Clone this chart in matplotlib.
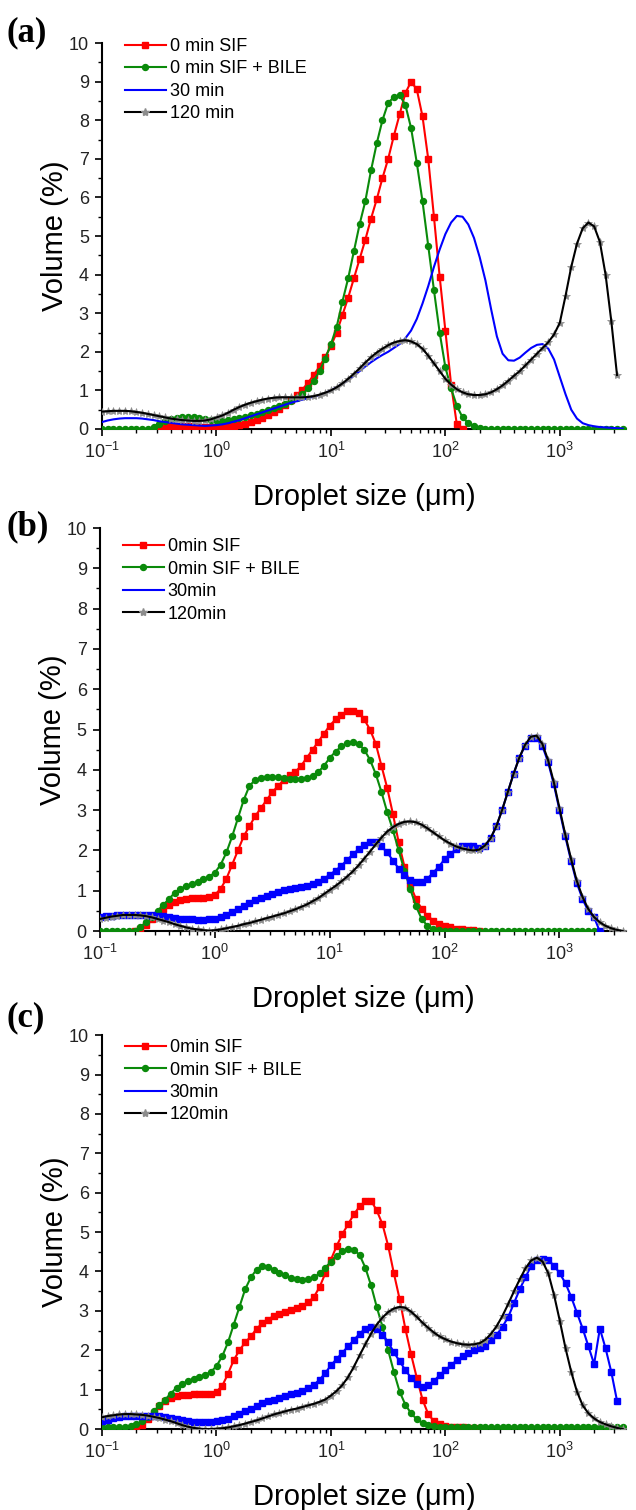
import numpy as np
import matplotlib.pyplot as plt
from matplotlib.lines import Line2D
from matplotlib.ticker import LogLocator, MultipleLocator, NullFormatter

plt.rcParams['font.family'] = 'Liberation Sans'
plt.rcParams['mathtext.fontset'] = 'custom'
plt.rcParams['mathtext.rm'] = 'Liberation Sans'
plt.rcParams['mathtext.it'] = 'Liberation Sans:italic'
plt.rcParams['mathtext.bf'] = 'Liberation Sans:bold'

nan = np.nan

# size classes (um), 20 per decade
sizes = [
    0.100, 0.112, 0.126, 0.142, 0.159, 0.178, 0.200, 0.224, 0.252, 0.283, 0.317, 0.356, 0.399, 0.448, 0.502, 0.564, 0.632, 0.710, 0.796, 0.893,
    1.002, 1.125, 1.262, 1.416, 1.589, 1.783, 2.000, 2.244, 2.518, 2.825, 3.170, 3.557, 3.991, 4.477, 5.024, 5.637, 6.325, 7.096, 7.962, 8.934,
    10.02, 11.25, 12.62, 14.16, 15.89, 17.83, 20.00, 22.44, 25.18, 28.25, 31.70, 35.57, 39.91, 44.77, 50.24, 56.37, 63.25, 70.96, 79.62, 89.34,
    100.2, 112.5, 126.2, 141.6, 158.9, 178.3, 200.0, 224.4, 251.8, 282.5, 317.0, 355.7, 399.1, 447.7, 502.4, 563.7, 632.5, 709.6, 796.2, 893.4,
    1002, 1125, 1262, 1416, 1589, 1783, 2000, 2244, 2518, 2825, 3170, 3557]

# ---- panel (a) ----
red_a = [
    nan, nan, nan, nan, nan, nan, nan, nan, nan, 0.00, 0.02, 0.05, 0.07, 0.08, 0.08, 0.08, 0.07, 0.06, 0.05, 0.05,
    0.05, 0.05, 0.07, 0.08, 0.10, 0.13, 0.17, 0.22, 0.28, 0.35, 0.43, 0.52, 0.62, 0.74, 0.87, 1.02, 1.20, 1.40, 1.62, 1.87,
    2.15, 2.50, 2.95, 3.40, 3.90, 4.40, 4.90, 5.45, 5.95, 6.50, 7.00, 7.60, 8.15, 8.70, 9.00, 8.80, 8.10, 7.00, 5.50, 3.95,
    2.55, 1.15, 0.12, 0.00, nan, nan, nan, nan, nan, nan, nan, nan, nan, nan, nan, nan, nan, nan, nan, nan,
    nan, nan, nan, nan, nan, nan, nan, nan, nan, nan, nan, nan]
green_a = [
    0.00, 0.00, 0.00, 0.00, 0.00, 0.00, 0.00, 0.00, 0.00, 0.05, 0.12, 0.20, 0.25, 0.28, 0.30, 0.30, 0.30, 0.28, 0.25, 0.22,
    0.20, 0.20, 0.22, 0.25, 0.28, 0.32, 0.36, 0.40, 0.45, 0.50, 0.55, 0.60, 0.66, 0.72, 0.80, 0.90, 1.05, 1.25, 1.50, 1.82,
    2.20, 2.65, 3.30, 3.90, 4.60, 5.30, 5.90, 6.70, 7.40, 8.00, 8.45, 8.60, 8.65, 8.40, 7.80, 6.90, 5.90, 4.75, 3.60, 2.50,
    1.60, 1.05, 0.60, 0.30, 0.15, 0.07, 0.03, 0.00, 0.00, 0.00, 0.00, 0.00, 0.00, 0.00, 0.00, 0.00, 0.00, 0.00, 0.00, 0.00,
    0.00, 0.00, 0.00, 0.00, 0.00, 0.00, 0.00, 0.00, 0.00, 0.00, 0.00, 0.00]
blue_a = [
    0.18, 0.22, 0.25, 0.27, 0.28, 0.28, 0.28, 0.27, 0.25, 0.23, 0.20, 0.18, 0.16, 0.14, 0.12, 0.11, 0.10, 0.09, 0.08, 0.09,
    0.10, 0.12, 0.15, 0.19, 0.23, 0.28, 0.33, 0.38, 0.43, 0.48, 0.53, 0.58, 0.63, 0.68, 0.72, 0.76, 0.80, 0.84, 0.88, 0.93,
    1.00, 1.08, 1.17, 1.27, 1.38, 1.50, 1.62, 1.73, 1.83, 1.92, 2.00, 2.10, 2.20, 2.35, 2.55, 2.85, 3.25, 3.70, 4.20, 4.65,
    5.05, 5.35, 5.52, 5.50, 5.30, 4.95, 4.45, 3.85, 3.10, 2.40, 1.95, 1.78, 1.77, 1.85, 1.98, 2.10, 2.18, 2.20, 2.08, 1.80,
    1.35, 0.90, 0.50, 0.27, 0.15, 0.10, 0.07, 0.05, 0.04, 0.03, 0.02, 0.01]
black_a = [
    0.45, 0.46, 0.47, 0.47, 0.47, 0.46, 0.44, 0.42, 0.39, 0.36, 0.33, 0.30, 0.27, 0.25, 0.23, 0.22, 0.21, 0.21, 0.22, 0.25,
    0.30, 0.35, 0.42, 0.50, 0.57, 0.63, 0.68, 0.72, 0.76, 0.79, 0.81, 0.82, 0.82, 0.82, 0.82, 0.82, 0.83, 0.85, 0.89, 0.94,
    1.00, 1.08, 1.18, 1.30, 1.43, 1.57, 1.72, 1.86, 1.98, 2.08, 2.17, 2.24, 2.28, 2.30, 2.27, 2.20, 2.08, 1.90, 1.70, 1.50,
    1.30, 1.15, 1.03, 0.95, 0.90, 0.88, 0.88, 0.90, 0.95, 1.03, 1.13, 1.25, 1.38, 1.50, 1.65, 1.80, 1.95, 2.10, 2.25, 2.45,
    2.75, 3.45, 4.20, 4.80, 5.20, 5.35, 5.25, 4.85, 4.00, 2.80, 1.40, nan]

# ---- panel (b) ----
red_b = [
    nan, nan, nan, nan, nan, nan, 0.00, 0.05, 0.15, 0.30, 0.42, 0.55, 0.65, 0.72, 0.78, 0.80, 0.82, 0.82, 0.83, 0.85,
    0.90, 1.05, 1.30, 1.65, 2.00, 2.35, 2.60, 2.85, 3.05, 3.25, 3.45, 3.60, 3.75, 3.88, 3.95, 4.10, 4.30, 4.50, 4.70, 4.90,
    5.10, 5.25, 5.37, 5.45, 5.47, 5.42, 5.25, 5.00, 4.65, 4.10, 3.55, 2.90, 2.20, 1.60, 1.15, 0.80, 0.55, 0.38, 0.26, 0.18,
    0.13, 0.09, 0.06, 0.04, 0.03, 0.02, 0.01, nan, nan, nan, nan, nan, nan, nan, nan, nan, nan, nan, nan, nan,
    nan, nan, nan, nan, nan, nan, nan, nan, nan, nan, nan, nan]
green_b = [
    0.00, 0.00, 0.00, 0.00, 0.00, 0.00, 0.00, 0.10, 0.22, 0.35, 0.50, 0.65, 0.80, 0.95, 1.05, 1.12, 1.17, 1.22, 1.28, 1.35,
    1.45, 1.65, 1.95, 2.35, 2.80, 3.25, 3.60, 3.75, 3.80, 3.82, 3.82, 3.82, 3.80, 3.78, 3.77, 3.77, 3.80, 3.85, 3.95, 4.10,
    4.30, 4.45, 4.58, 4.66, 4.70, 4.65, 4.50, 4.25, 3.90, 3.45, 2.95, 2.50, 2.00, 1.50, 1.05, 0.62, 0.30, 0.13, 0.05, 0.02,
    0.00, 0.00, 0.00, 0.00, 0.00, 0.00, 0.00, 0.00, 0.00, 0.00, 0.00, 0.00, 0.00, 0.00, 0.00, 0.00, 0.00, 0.00, 0.00, 0.00,
    0.00, 0.00, 0.00, 0.00, 0.00, 0.00, 0.00, nan, nan, nan, nan, nan]
blue_b = [
    0.35, 0.37, 0.38, 0.39, 0.40, 0.40, 0.40, 0.40, 0.40, 0.39, 0.38, 0.37, 0.35, 0.33, 0.31, 0.30, 0.29, 0.28, 0.28, 0.29,
    0.31, 0.35, 0.41, 0.48, 0.55, 0.62, 0.69, 0.76, 0.82, 0.88, 0.93, 0.98, 1.02, 1.05, 1.08, 1.10, 1.13, 1.17, 1.22, 1.30,
    1.40, 1.50, 1.62, 1.76, 1.90, 2.03, 2.13, 2.20, 2.20, 2.10, 1.95, 1.75, 1.55, 1.38, 1.27, 1.22, 1.22, 1.30, 1.45, 1.60,
    1.78, 1.92, 2.03, 2.10, 2.12, 2.10, 2.05, 2.12, 2.30, 2.60, 3.00, 3.45, 3.90, 4.30, 4.60, 4.78, 4.78, 4.60, 4.20, 3.65,
    3.00, 2.35, 1.75, 1.20, 0.80, 0.50, 0.35, 0.00, nan, nan, nan, nan]
black_b = [
    0.30, 0.33, 0.36, 0.38, 0.40, 0.40, 0.40, 0.39, 0.37, 0.34, 0.30, 0.26, 0.22, 0.17, 0.13, 0.09, 0.06, 0.04, 0.02, 0.01,
    0.02, 0.04, 0.07, 0.10, 0.13, 0.17, 0.20, 0.24, 0.28, 0.32, 0.36, 0.40, 0.44, 0.49, 0.54, 0.60, 0.66, 0.74, 0.82, 0.92,
    1.02, 1.12, 1.23, 1.35, 1.48, 1.63, 1.80, 1.97, 2.15, 2.32, 2.47, 2.58, 2.66, 2.71, 2.72, 2.70, 2.64, 2.55, 2.45, 2.35,
    2.25, 2.17, 2.10, 2.05, 2.02, 2.00, 2.02, 2.12, 2.30, 2.60, 3.00, 3.45, 3.90, 4.30, 4.62, 4.82, 4.85, 4.65, 4.25, 3.70,
    3.05, 2.40, 1.80, 1.25, 0.85, 0.55, 0.35, 0.22, 0.13, 0.07, 0.03, 0.00]

# ---- panel (c) ----
red_c = [
    nan, nan, nan, nan, nan, nan, 0.00, 0.10, 0.25, 0.42, 0.58, 0.70, 0.78, 0.83, 0.86, 0.87, 0.88, 0.88, 0.88, 0.90,
    0.95, 1.10, 1.40, 1.75, 2.00, 2.20, 2.35, 2.55, 2.68, 2.78, 2.87, 2.93, 2.98, 3.02, 3.07, 3.13, 3.22, 3.35, 3.60, 3.95,
    4.30, 4.65, 4.95, 5.20, 5.45, 5.65, 5.78, 5.80, 5.55, 5.20, 4.65, 3.95, 3.30, 2.55, 1.90, 1.30, 0.75, 0.38, 0.20, 0.12,
    0.08, 0.06, 0.05, 0.04, 0.03, 0.02, 0.01, nan, nan, nan, nan, nan, nan, nan, nan, nan, nan, nan, nan, nan,
    nan, nan, nan, nan, nan, nan, nan, nan, nan, nan, nan, nan]
green_c = [
    0.05, 0.05, 0.05, 0.05, 0.05, 0.08, 0.12, 0.20, 0.30, 0.45, 0.60, 0.75, 0.90, 1.05, 1.15, 1.22, 1.28, 1.33, 1.38, 1.45,
    1.60, 1.85, 2.20, 2.65, 3.10, 3.55, 3.85, 4.05, 4.15, 4.12, 4.05, 3.97, 3.90, 3.84, 3.80, 3.78, 3.80, 3.85, 3.95, 4.10,
    4.25, 4.40, 4.52, 4.58, 4.55, 4.42, 4.10, 3.65, 3.10, 2.60, 2.00, 1.45, 0.95, 0.62, 0.40, 0.25, 0.15, 0.10, 0.08, 0.06,
    0.05, 0.05, 0.05, 0.05, 0.05, 0.05, 0.05, 0.05, 0.05, 0.05, 0.05, 0.05, 0.05, 0.05, 0.05, 0.05, 0.05, 0.05, 0.05, 0.05,
    0.05, 0.05, 0.05, 0.05, 0.05, 0.05, 0.05, 0.05, 0.05, 0.05, 0.05, 0.05]
blue_c = [
    0.20, 0.24, 0.27, 0.30, 0.32, 0.33, 0.34, 0.34, 0.34, 0.33, 0.32, 0.30, 0.28, 0.25, 0.22, 0.20, 0.18, 0.17, 0.17, 0.18,
    0.20, 0.22, 0.26, 0.32, 0.38, 0.45, 0.52, 0.58, 0.65, 0.70, 0.75, 0.80, 0.84, 0.88, 0.92, 0.97, 1.03, 1.12, 1.25, 1.42,
    1.62, 1.78, 1.94, 2.10, 2.26, 2.42, 2.55, 2.60, 2.55, 2.40, 2.20, 1.95, 1.72, 1.50, 1.30, 1.15, 1.08, 1.12, 1.22, 1.37,
    1.50, 1.62, 1.75, 1.85, 1.93, 2.00, 2.05, 2.10, 2.25, 2.40, 2.60, 2.85, 3.20, 3.55, 3.85, 4.15, 4.28, 4.32, 4.28, 4.15,
    3.95, 3.70, 3.35, 2.95, 2.55, 2.10, 1.65, 2.55, 2.05, 1.45, 0.72, nan]
black_c = [
    0.30, 0.33, 0.35, 0.37, 0.38, 0.38, 0.37, 0.36, 0.34, 0.31, 0.28, 0.24, 0.20, 0.15, 0.10, 0.06, 0.03, 0.01, 0.00, 0.00,
    0.01, 0.02, 0.04, 0.07, 0.10, 0.14, 0.18, 0.22, 0.27, 0.32, 0.37, 0.41, 0.45, 0.49, 0.52, 0.56, 0.60, 0.64, 0.69, 0.75,
    0.85, 0.97, 1.12, 1.32, 1.58, 1.87, 2.15, 2.42, 2.65, 2.83, 2.97, 3.06, 3.10, 3.08, 2.98, 2.85, 2.70, 2.57, 2.45, 2.35,
    2.28, 2.22, 2.18, 2.15, 2.14, 2.15, 2.18, 2.27, 2.42, 2.62, 2.88, 3.18, 3.50, 3.80, 4.08, 4.28, 4.35, 4.25, 3.95, 3.40,
    2.75, 2.05, 1.45, 0.95, 0.60, 0.40, 0.27, 0.18, 0.12, 0.07, 0.03, 0.00]

labels_a = ['0 min SIF', '0 min SIF + BILE', '30 min', '120 min']
labels_bc = ['0min SIF', '0min SIF + BILE', '30min', '120min']

RED, GREEN, BLUE = '#ff0000', '#0a8a0a', '#0000ff'

fig = plt.figure(figsize=(6.36, 15.1), dpi=100)

panels = [
    # tag, rect, series, labels, blue markers, legend y, tag y
    ('(a)', [0.1604, 0.7159, 0.8239, 0.2556], (red_a, green_a, blue_a, black_a), labels_a, False, 1.055, 0.978),
    ('(b)', [0.1572, 0.3834, 0.8270, 0.2669], (red_b, green_b, blue_b, black_b), labels_bc, True, 1.015, 0.651),
    ('(c)', [0.1604, 0.0536, 0.8239, 0.2609], (red_c, green_c, blue_c, black_c), labels_bc, True, 1.031, 0.326),
]

for tag, rect, series, labels, blue_marks, leg_y, tag_y in panels:
    red, green, blue, black = series
    ax = fig.add_axes(rect)
    ax.plot(sizes, red, color=RED, lw=1.5, marker='s', ms=4.3, mec=RED, zorder=3)
    ax.plot(sizes, green, color=GREEN, lw=1.5, marker='o', ms=4.3, mec=GREEN, zorder=3)
    if blue_marks:
        ax.plot(sizes, blue, color=BLUE, lw=1.5, marker='s', ms=4.3, mec=BLUE, zorder=3)
    else:
        ax.plot(sizes, blue, color=BLUE, lw=1.5, zorder=3)
    ax.plot(sizes, black, ls='none', marker='*', ms=6, color='#8c8c8c', mew=0.5, zorder=4)
    ax.plot(sizes, black, color='black', lw=1.5, zorder=5)

    ax.set_xscale('log')
    ax.set_xlim(0.1, 3800)
    ax.set_ylim(0, 10)
    ax.yaxis.set_major_locator(MultipleLocator(1))
    ax.yaxis.set_minor_locator(MultipleLocator(0.5))
    ax.xaxis.set_major_locator(LogLocator(base=10, numticks=10))
    ax.xaxis.set_minor_locator(LogLocator(base=10, subs=np.arange(2, 10), numticks=20))
    ax.xaxis.set_minor_formatter(NullFormatter())
    for s in ('top', 'right'):
        ax.spines[s].set_visible(False)
    for s in ('left', 'bottom'):
        ax.spines[s].set_linewidth(1.5)
    ax.tick_params(which='major', direction='out', length=5, width=1.4, labelsize=13,
                   colors='#222222', pad=4.5)
    ax.tick_params(which='minor', direction='out', length=3, width=1.0)
    ax.set_xlabel('Droplet size (\u03bcm)', fontsize=21, labelpad=15)
    ax.set_ylabel('Volume (%)', fontsize=21, labelpad=0)

    handles = [
        Line2D([], [], color=RED, lw=1.5, marker='s', ms=4.3),
        Line2D([], [], color=GREEN, lw=1.5, marker='o', ms=4.3),
        Line2D([], [], color=BLUE, lw=1.5),
        Line2D([], [], color='black', lw=1.5, marker='*', ms=6, mfc='#8c8c8c', mec='#8c8c8c'),
    ]
    ax.legend(handles, labels, loc='upper left', bbox_to_anchor=(0.012, leg_y), frameon=False,
              fontsize=13, handlelength=2.3, handletextpad=0.2, labelspacing=0.3, numpoints=1)

    fig.text(0.010, tag_y, tag, fontsize=25, fontweight='bold', family='Liberation Serif', va='center')

fig.savefig('out.png', dpi=100)
